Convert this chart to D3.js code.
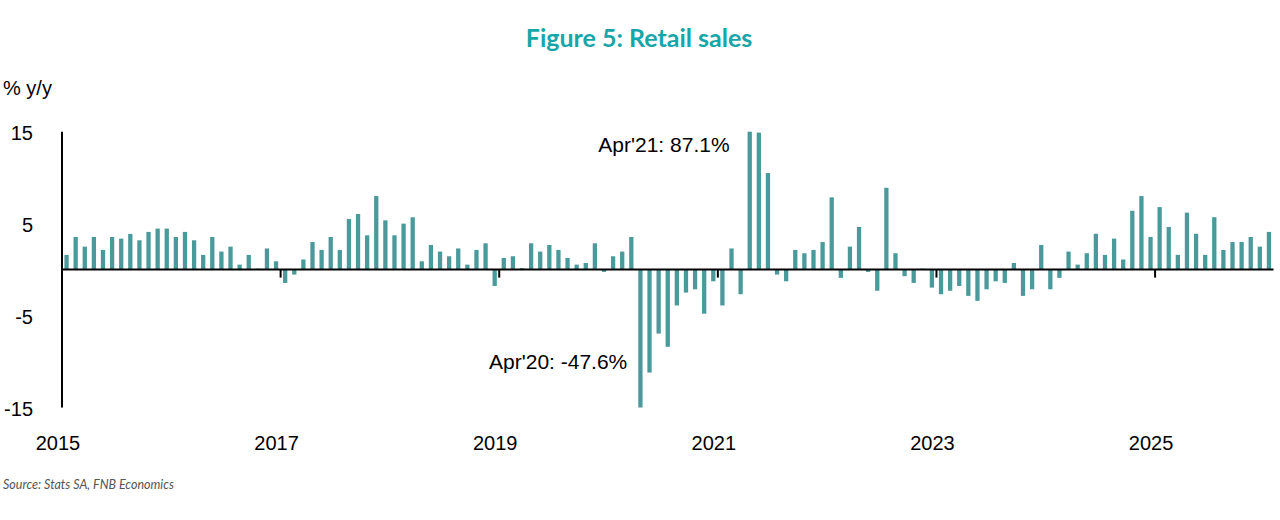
<!DOCTYPE html>
<html>
<head>
<meta charset="utf-8">
<script src="https://cdn.jsdelivr.net/npm/d3@7"></script>
<style>
  html, body { margin: 0; padding: 0; background: #ffffff; }
  svg { display: block; }
</style>
</head>
<body>
<script>
// ---- Data: retail sales, % y/y, monthly Jan-2015 .. Jan-2026 ----
const startYear = 2015;
const y2015 = [1.6, 3.55, 2.5, 3.55, 2.14, 3.55, 3.37, 3.88, 3.19, 4.1, 4.46, 4.46];
const y2016 = [3.55, 4.1, 3.19, 1.6, 3.55, 1.96, 2.5, 0.54, 1.6, 0.1, 2.3, 0.9];
const y2017 = [-1.45, -0.54, 1.1, 3.0, 2.14, 3.55, 2.14, 5.5, 6.05, 3.73, 8.0, 5.36];
const y2018 = [3.73, 5.0, 5.69, 0.9, 2.68, 1.96, 1.45, 2.3, 0.54, 2.14, 2.86, -1.78];
const y2019 = [1.27, 1.45, 0.15, 2.86, 1.96, 2.68, 2.14, 1.27, 0.54, 0.72, 2.86, -0.25];
const y2020 = [1.45, 1.96, 3.55, -47.6, -11.2, -6.96, -8.4, -3.9, -2.5, -2.14, -4.8, -1.27];
const y2021 = [-3.9, 2.3, -2.68, 87.1, 14.9, 10.5, -0.54, -1.27, 2.14, 1.78, 2.14, 3.0];
const y2022 = [7.86, -0.9, 2.5, 4.64, -0.25, -2.3, 8.9, 1.78, -0.72, -1.45, 0.1, -1.96];
const y2023 = [-2.68, -2.3, -1.78, -2.86, -3.4, -2.14, -1.27, -1.45, 0.72, -2.86, -2.14, 2.68];
const y2024 = [-2.14, -0.9, 1.96, 0.54, 1.78, 3.9, 1.6, 3.37, 1.1, 6.4, 8.0, 3.55];
const y2025 = [6.8, 4.64, 1.6, 6.2, 3.9, 1.6, 5.7, 2.14, 3.0, 3.0, 3.55, 2.5];
const y2026 = [4.1];

const xTickYears = [2015, 2017, 2019, 2021, 2023, 2025];
const yTickValues = [15, 5, -5, -15];
const annotations = [
  { year: 2021, month: 4, label: "Apr'21: 87.1%" },
  { year: 2020, month: 4, label: "Apr'20: -47.6%" }
];
const titleText = "Figure 5: Retail sales";
const yAxisTitle = "% y/y";
const sourceText = "Source: Stats SA, FNB Economics";

(function draw() {
  const values = [].concat(y2015, y2016, y2017, y2018, y2019, y2020, y2021, y2022, y2023, y2024, y2025, y2026);
  const data = values.map((v, i) => ({ i, value: v }));

  const W = 1280, H = 520;
  const pL = 62, pR = 1273.5, pT = 131.7, pB = 407.5;

  const svg = d3.select("body").append("svg").attr("width", W).attr("height", H);

  const padInner = 0.53;
  const x = d3.scaleBand()
    .domain(data.map(d => d.i))
    .range([pL, pR])
    .paddingInner(padInner)
    .paddingOuter(padInner / 2);
  const step = x.step();
  const monthStart = i => x(i) - step * padInner / 2;

  const y = d3.scaleLinear().domain([-15, 15]).range([pB, pT]).clamp(true);

  const teal = "#4a9a9c";
  const font = "'Liberation Sans', Arial, sans-serif";

  svg.append("g").selectAll("rect").data(data).join("rect")
    .attr("x", d => x(d.i))
    .attr("width", x.bandwidth())
    .attr("y", d => Math.min(y(d.value), y(0)))
    .attr("height", d => Math.abs(y(d.value) - y(0)))
    .attr("fill", teal);

  svg.append("line")
    .attr("x1", pL).attr("x2", pL)
    .attr("y1", y(15)).attr("y2", y(-15))
    .attr("stroke", "#000").attr("stroke-width", 2);

  svg.append("line")
    .attr("x1", pL).attr("x2", pR)
    .attr("y1", y(0)).attr("y2", y(0))
    .attr("stroke", "#000").attr("stroke-width", 2);

  const tickIdx = xTickYears.map(yr => (yr - startYear) * 12);
  svg.append("g").selectAll("line").data(tickIdx.filter(i => i > 0)).join("line")
    .attr("x1", d => monthStart(d)).attr("x2", d => monthStart(d))
    .attr("y1", y(0)).attr("y2", y(0) + 8)
    .attr("stroke", "#000").attr("stroke-width", 2);

  svg.append("g").selectAll("text").data(xTickYears).join("text")
    .attr("x", d => monthStart((d - startYear) * 12) - 4)
    .attr("y", 450)
    .attr("text-anchor", "middle")
    .attr("font-family", font)
    .attr("font-size", 20)
    .attr("fill", "#000")
    .text(d => d);

  svg.append("g").selectAll("text").data(yTickValues).join("text")
    .attr("x", 33)
    .attr("y", d => y(d) + 8.5)
    .attr("text-anchor", "end")
    .attr("font-family", font)
    .attr("font-size", 20)
    .attr("fill", "#000")
    .text(d => d);

  svg.append("text")
    .attr("x", 3).attr("y", 95)
    .attr("font-family", font)
    .attr("font-size", 20)
    .attr("fill", "#000")
    .text(yAxisTitle);

  annotations.forEach(a => {
    const idx = (a.year - startYear) * 12 + (a.month - 1);
    const d = data[idx];
    const isPos = d.value > 0;
    svg.append("text")
      .attr("x", x(idx) - (isPos ? 18 : 11))
      .attr("y", isPos ? y(d.value) + 20 : y(d.value) - 39)
      .attr("text-anchor", "end")
      .attr("font-family", font)
      .attr("font-size", 21)
      .attr("fill", "#000")
      .text(a.label);
  });

  svg.append("text")
    .attr("x", 639).attr("y", 47)
    .attr("text-anchor", "middle")
    .attr("font-family", "Lato, 'Open Sans', sans-serif")
    .attr("font-weight", 700)
    .attr("font-size", 25)
    .attr("fill", "#17a6a8")
    .text(titleText);

  svg.append("text")
    .attr("x", 3).attr("y", 489)
    .attr("font-family", "Lato, 'Open Sans', sans-serif")
    .attr("font-style", "italic")
    .attr("font-size", 12.5)
    .attr("fill", "#555")
    .text(sourceText);
})();
</script>
</body>
</html>
